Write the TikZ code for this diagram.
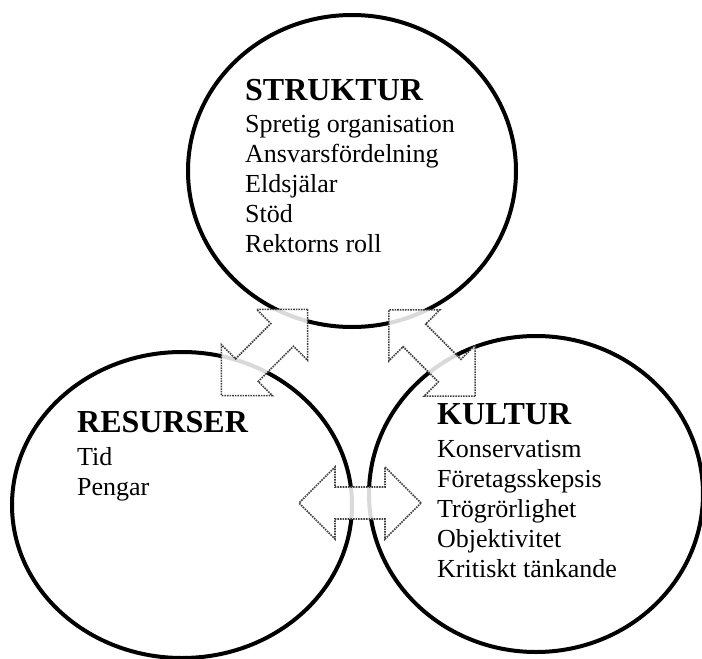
\documentclass[tikz,border=0pt]{standalone}
\usepackage{fontspec}
\setmainfont{Liberation Serif}
\usetikzlibrary{shapes.geometric,positioning}

\tikzset{
  ring/.style={draw, ellipse, line width=4pt, inner sep=0pt},
  head/.style={font=\fontsize{32}{36}\selectfont\bfseries, anchor=base west, inner sep=0pt},
  item/.style={font=\fontsize{26}{30}\selectfont, anchor=base west, inner sep=0pt},
  arrowline/.style={draw=black!75, densely dotted, line width=1.6pt, fill=white, fill opacity=0.85},
  blockarrow/.pic={
    \draw[arrowline] (61,0) -- (25,36) -- (25,16) -- (-25,16) -- (-25,36) -- (-61,0)
      -- (-25,-36) -- (-25,-16) -- (25,-16) -- (25,-36) -- cycle;
  }
}

\begin{document}
\begin{tikzpicture}[x=1pt,y=-1pt]
\useasboundingbox (0,0) rectangle (702,659);
% the three circles
\node[ring, minimum width=328pt, minimum height=312pt] (struktur) at (352,171) {};
\node[ring, minimum width=340pt, minimum height=306pt] (resurser) at (182,505) {};
\node[ring, minimum width=334pt, minimum height=316pt] (kultur) at (536,494) {};
% struktur
\node[head] (sh) at (245,100) {STRUKTUR};
\foreach \t [count=\i] in {Spretig organisation,Ansvarsfördelning,Eldsjälar,Stöd,Rektorns roll}
  \node[item] (s\i) at (245,102+30*\i) {\t};
% resurser
\node[head] (rh) at (77,432) {RESURSER};
\foreach \t [count=\i] in {Tid,Pengar}
  \node[item] (r\i) at (77,435+30*\i) {\t};
% kultur
\node[head] (kh) at (437,424) {KULTUR};
\foreach \t [count=\i] in {Konservatism,Företagsskepsis,Trögrörlighet,Objektivitet,Kritiskt tänkande}
  \node[item] (k\i) at (437,427+30*\i) {\t};
% double block arrows between the circles
\pic[rotate=45] (sr) at (264.5,352.5) {blockarrow};
\pic[rotate=-45] (sk) at (432,353) {blockarrow};
\pic (rk) at (360,503) {blockarrow};
\end{tikzpicture}
\end{document}
